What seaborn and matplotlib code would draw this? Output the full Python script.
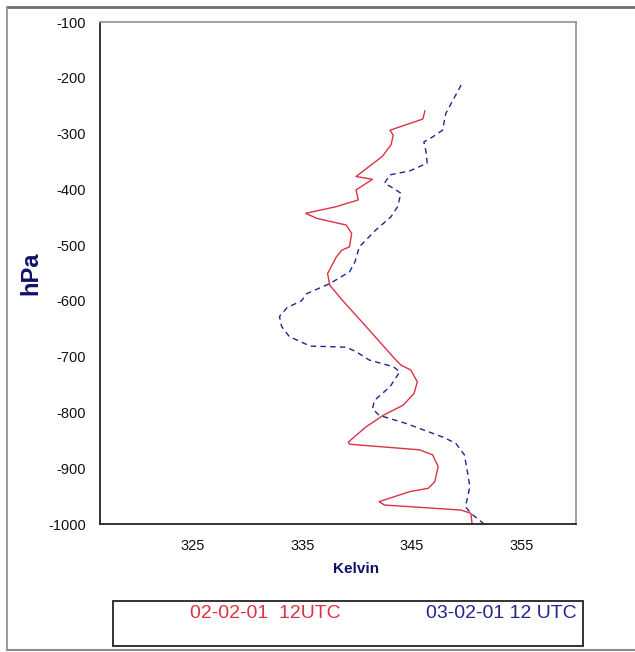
import matplotlib
matplotlib.use("Agg")
import matplotlib.pyplot as plt
from matplotlib.patches import Rectangle
from matplotlib.lines import Line2D
import seaborn as sns
import pandas as pd

# ---- data ----
red_label = "02-02-01  12UTC"
blue_label = "03-02-01 12 UTC"

red_hpa = [-259, -274, -294, -303, -320, -341, -359, -377, -382, -401, -419, -431,
           -443, -452, -464, -479, -503, -509, -521, -551, -572, -600, -650, -703,
           -715, -724, -745, -766, -787, -805, -826, -853, -857, -867, -876, -897,
           -924, -936, -942, -960, -966, -975, -981, -1000]
red_k = [346.2, 346.0, 343.0, 343.3, 343.1, 342.3, 341.1, 339.9, 341.4, 339.9, 340.1, 338.1,
         335.3, 336.3, 339.0, 339.5, 339.3, 338.6, 338.1, 337.3, 337.5, 338.7, 341.0, 343.4,
         344.0, 344.9, 345.5, 345.2, 344.2, 342.4, 340.8, 339.2, 339.3, 345.7, 346.9, 347.4,
         347.1, 346.5, 344.8, 342.0, 342.5, 349.5, 350.4, 350.5]

blue_hpa = [-213, -264, -294, -306, -315, -333, -353, -367, -374, -389, -398, -407,
            -431, -449, -473, -503, -530, -548, -569, -587, -600, -612, -628, -646,
            -664, -681, -683, -691, -706, -718, -727, -754, -778, -793, -805, -820,
            -844, -855, -876, -909, -933, -969, -981, -1000]
blue_k = [349.5, 348.1, 347.8, 346.9, 346.1, 346.3, 346.4, 344.8, 343.0, 342.5, 343.3, 344.0,
          343.7, 343.1, 341.7, 340.2, 339.8, 339.3, 337.5, 335.4, 334.9, 333.6, 332.9, 333.1,
          333.8, 335.7, 339.0, 339.9, 341.1, 343.3, 343.9, 343.0, 341.6, 341.4, 342.0, 344.5,
          347.8, 349.0, 349.8, 350.1, 350.3, 349.9, 350.4, 351.6]

x_ticks = [325, 335, 345, 355]
y_ticks = [-100, -200, -300, -400, -500, -600, -700, -800, -900, -1000]

red_color = "#dc3242"
blue_color = "#24248f"
label_color = "#10106a"

sns.set_theme(style="white")
plt.rcParams["font.family"] = ["Liberation Sans", "DejaVu Sans"]

W, H = 635, 652
fig = plt.figure(figsize=(W / 100, H / 100), dpi=100)
fig.patch.set_facecolor("white")

ax = fig.add_axes([100 / W, 1 - 524 / H, 476 / W, 502 / H])

red_df = pd.DataFrame({"Kelvin": red_k, "hPa": red_hpa})
blue_df = pd.DataFrame({"Kelvin": blue_k, "hPa": blue_hpa})

sns.lineplot(data=red_df, x="Kelvin", y="hPa", sort=False, estimator=None,
             color=red_color, linewidth=1.0, ax=ax, label=red_label)
sns.lineplot(data=blue_df, x="Kelvin", y="hPa", sort=False, estimator=None,
             color=blue_color, linewidth=1.0, linestyle=(0, (4, 3)), ax=ax,
             label=blue_label)

ax.set_xlim(316.5, 360)
ax.set_ylim(-1000, -100)
ax.set_xticks(x_ticks)
ax.set_yticks(y_ticks)
ax.set_xticklabels([str(v) for v in x_ticks])
ax.set_yticklabels([str(v) for v in y_ticks])
ax.tick_params(axis="both", direction="out", length=4, width=1, color="#222222",
               labelsize=10.5, labelcolor="#111111")
ax.tick_params(axis="x", pad=7)
ax.tick_params(axis="y", pad=6)
ax.set_xlabel("")
ax.set_ylabel("")
for side in ["left", "bottom"]:
    ax.spines[side].set_color("#222222")
    ax.spines[side].set_linewidth(1.3)
for side in ["top", "right"]:
    ax.spines[side].set_color("#9a9a9a")
    ax.spines[side].set_linewidth(1.3)
ax.grid(False)
ax.get_legend().remove()

fig.text(356 / W, 1 - 569 / H, "Kelvin", ha="center", va="center",
         fontsize=11, fontweight="bold", color=label_color)
fig.text(31 / W, 1 - 273 / H, "hPa", ha="center", va="center", rotation=90,
         fontsize=17, fontweight="bold", color=label_color)

# legend box
fig.patches.append(Rectangle((113 / W, 1 - 646 / H), 470 / W, 45 / H,
                             transform=fig.transFigure, fill=False,
                             edgecolor="#222222", linewidth=1.3))
leg = fig.legend([Line2D([], [], linestyle="none")] * 2, [red_label, blue_label],
                 loc="center left", bbox_to_anchor=(190 / W, 1 - 613 / H),
                 ncol=2, frameon=False, handlelength=0, handletextpad=0,
                 columnspacing=4.4, fontsize=14, borderpad=0, borderaxespad=0)
for t, c in zip(leg.get_texts(), [red_color, blue_color]):
    t.set_color(c)

# outer frame
fig.add_artist(Line2D([7 / W, 1.0], [1 - 7 / H, 1 - 7 / H], transform=fig.transFigure,
                      color="#6e6e6e", linewidth=2))
fig.add_artist(Line2D([7 / W, 7 / W], [1 - 7 / H, 1 - 650 / H], transform=fig.transFigure,
                      color="#8a8a8a", linewidth=1.2))
fig.add_artist(Line2D([7 / W, 1.0], [1 - 650 / H, 1 - 650 / H], transform=fig.transFigure,
                      color="#8a8a8a", linewidth=1.5))

fig.savefig("out.png", dpi=100, facecolor="white")
